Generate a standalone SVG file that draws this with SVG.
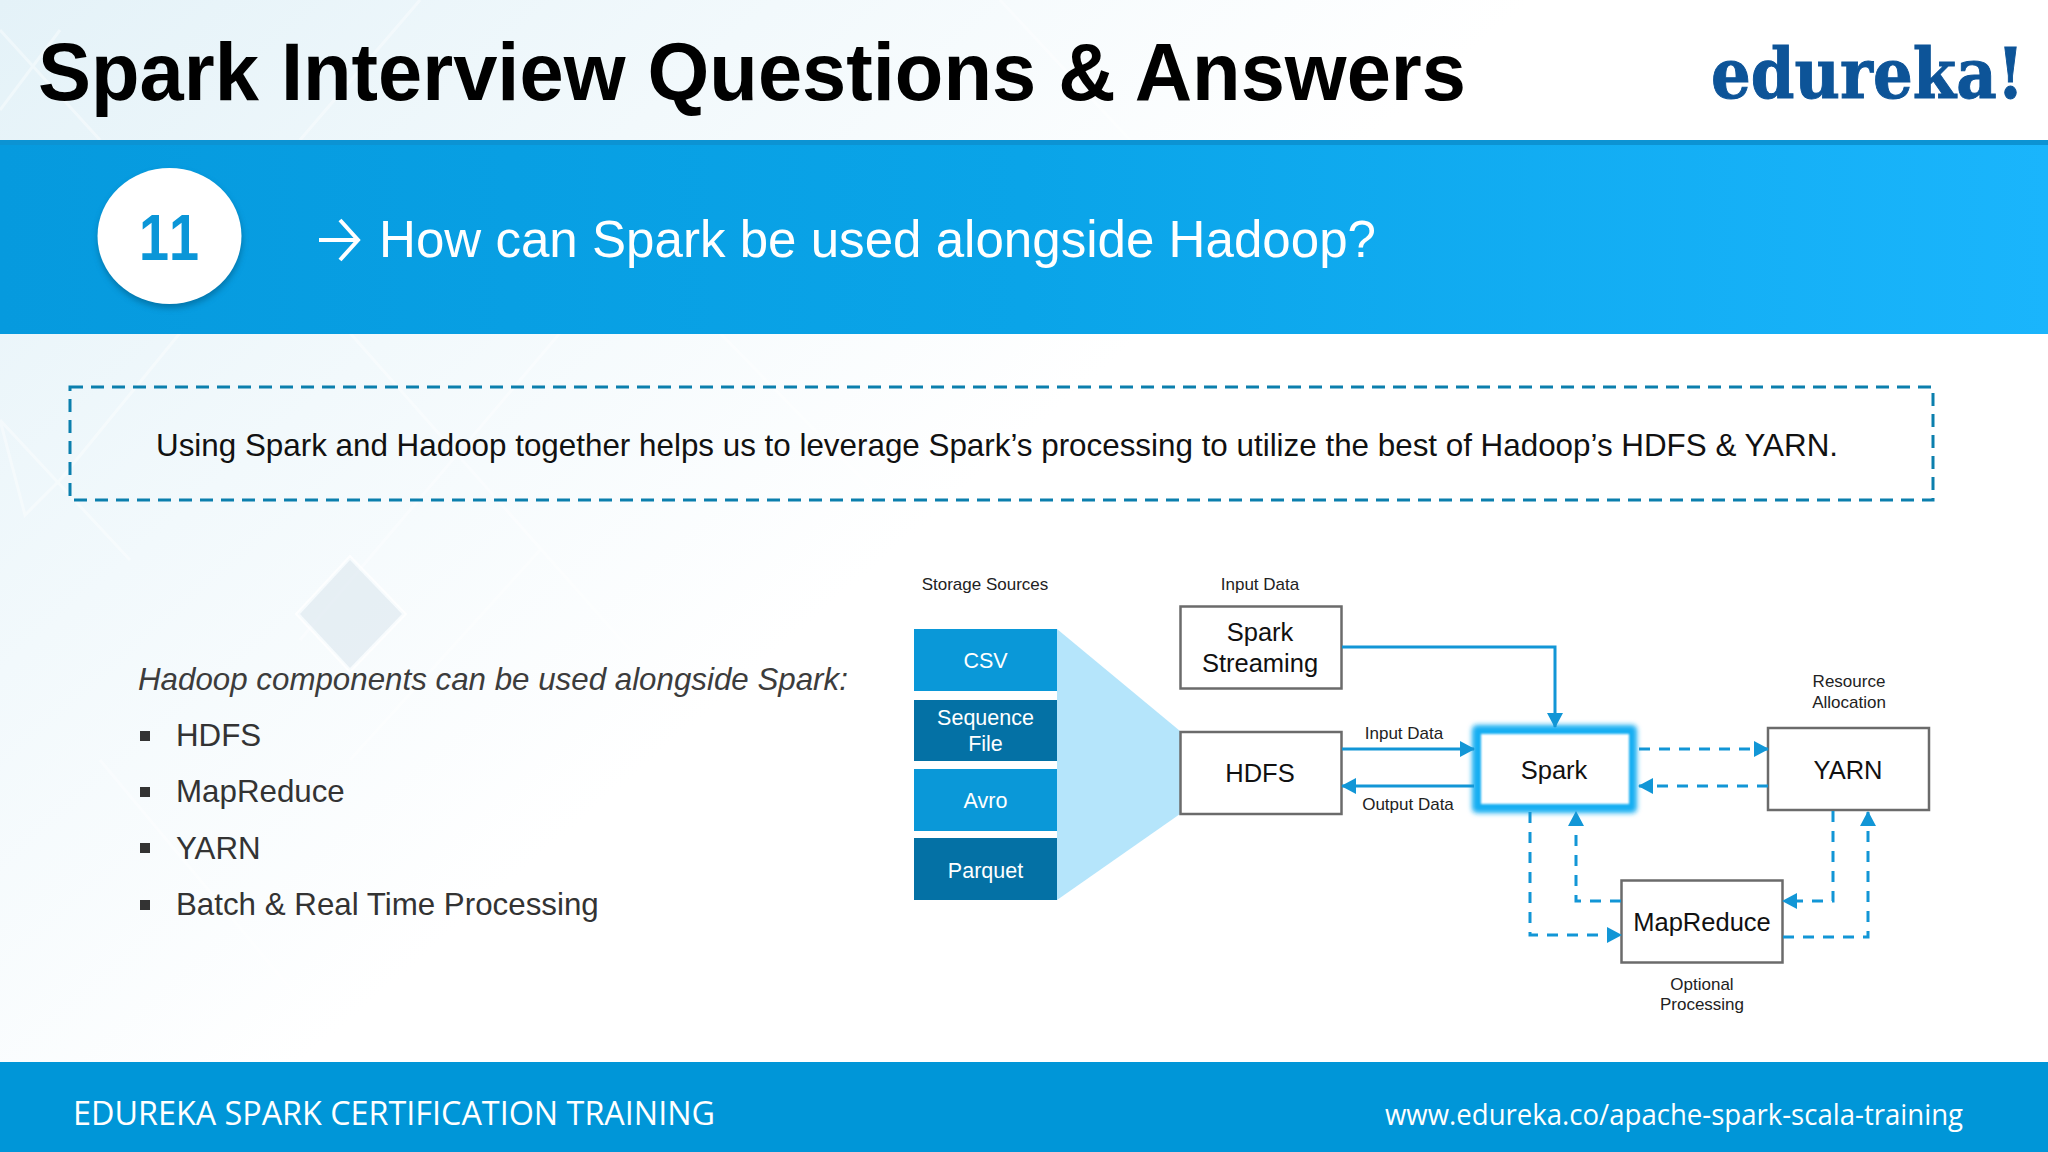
<svg xmlns="http://www.w3.org/2000/svg" width="2048" height="1152" viewBox="0 0 2048 1152">
<style>
text{font-family:"Liberation Sans",Arial,sans-serif}
.box{fill:#fff;stroke:#6b6b6b;stroke-width:2.5}
.lbl{font-size:25.5px;fill:#111;text-anchor:middle}
.sm{font-size:17px;fill:#222;text-anchor:middle}
.st{font-size:21.5px;fill:#fff;text-anchor:middle}
.li{font-size:31.300px;fill:#333}
.bul{fill:#333}
.c{fill:none;stroke:#1296d6;stroke-width:3}
.d{stroke-dasharray:11 9}
.foot{fill:#fff}
</style>
<defs>
<linearGradient id="band" x1="0" x2="1" y1="0" y2="0"><stop offset="0" stop-color="#069ade"/><stop offset="0.5" stop-color="#0aa4e8"/><stop offset="1" stop-color="#1ab5fc"/></linearGradient>
<linearGradient id="bg" x1="0" y1="0" x2="1" y2="0.6"><stop offset="0" stop-color="#e4f2f8"/><stop offset="0.28" stop-color="#f2f9fc"/><stop offset="0.55" stop-color="#fff"/></linearGradient>
<filter id="glow" x="-20%" y="-30%" width="140%" height="160%"><feGaussianBlur stdDeviation="2.5"/></filter>
<filter id="soft" x="-20%" y="-30%" width="140%" height="160%"><feGaussianBlur stdDeviation="1.2"/></filter>
<filter id="shadow" x="-20%" y="-20%" width="140%" height="140%"><feGaussianBlur stdDeviation="3"/></filter>
<marker id="a" markerUnits="userSpaceOnUse" markerWidth="16" markerHeight="16" refX="14" refY="8" orient="auto"><path d="M0 0L15 8L0 16Z" fill="#1296d6"/></marker>
</defs>
<g id="background">
<rect width="2048" height="1152" fill="#fff"/>
<rect width="2048" height="1062" fill="url(#bg)"/>
<g fill="none" stroke="#fff" stroke-width="3" opacity=".4">
<path d="M0 110L60 30M0 30L100 140M300 140L420 0M1000 0L1130 140M0 420L25 515L70 470M0 420L130 560M180 333L60 480M350 333L630 650M560 333L300 640M720 333L1000 620M540 550L350 760M100 760L300 1000"/>
</g>
<path d="M350 560L402 614L350 668L300 614Z" fill="#dde8f0" opacity=".65"/>
<path d="M350 556L406 614L350 672L296 614Z" fill="none" stroke="#fff" stroke-width="2" opacity=".8"/>
</g>
<g id="header">
<text x="38" y="100" font-size="82" font-weight="700" fill="#000" textLength="1428" lengthAdjust="spacingAndGlyphs">Spark Interview Questions &amp; Answers</text>
<text transform="translate(1711 98) scale(.894 1)" font-size="70" font-weight="700" fill="#0d5498" stroke="#0d5498" stroke-width="1" style="font-family:'DejaVu Serif',serif">edureka!</text>
</g>
<g id="question-band">
<rect y="140" width="2048" height="194" fill="url(#band)"/>
<rect y="140" width="2048" height="5" fill="#0c93d3"/>
<ellipse cx="170" cy="240" rx="72" ry="68" fill="#04577f" opacity=".55" filter="url(#shadow)"/>
<ellipse cx="169.500" cy="236" rx="72" ry="68" fill="#fff"/>
<text x="139" y="260" font-size="64" font-weight="700" fill="#0a96d8" textLength="60" lengthAdjust="spacingAndGlyphs" style="font-kerning:none">11</text>
<path d="M319 240H357M340 220L358 240L340 260" fill="none" stroke="#fff" stroke-width="4"/>
<text x="379" y="257" font-size="52" fill="#fff" textLength="997" lengthAdjust="spacingAndGlyphs">How can Spark be used alongside Hadoop?</text>
</g>
<g id="callout">
<rect x="70" y="387" width="1863" height="113" fill="none" stroke="#0b7fad" stroke-width="3" stroke-dasharray="13 8"/>
<text x="156" y="456" font-size="32" fill="#111" textLength="1682" lengthAdjust="spacingAndGlyphs">Using Spark and Hadoop together helps us to leverage Spark’s processing to utilize the best of Hadoop’s HDFS &amp; YARN.</text>
</g>
<g id="bullets">
<text x="138" y="690" font-size="31.300" font-style="italic" fill="#3c3c3c">Hadoop components can be used alongside Spark:</text>
<rect class="bul" x="140" y="731" width="10" height="10"/><text class="li" x="176" y="746">HDFS</text>
<rect class="bul" x="140" y="787" width="10" height="10"/><text class="li" x="176" y="802">MapReduce</text>
<rect class="bul" x="140" y="843" width="10" height="10"/><text class="li" x="176" y="859">YARN</text>
<rect class="bul" x="140" y="900" width="10" height="10"/><text class="li" x="176" y="915">Batch &amp; Real Time Processing</text>
</g>
<g id="funnel"><path d="M1057 629L1180 731V814L1057 900Z" fill="#b5e5fb"/></g>
<g id="storage-sources">
<text class="sm" x="985" y="590">Storage Sources</text>
<rect x="914" y="629" width="143" height="62" fill="#0a98d8"/><text class="st" x="985.500" y="668">CSV</text>
<rect x="914" y="700" width="143" height="61" fill="#0471a5"/><text class="st" x="985.500" y="725">Sequence</text><text class="st" x="985.500" y="751">File</text>
<rect x="914" y="769" width="143" height="62" fill="#0a98d8"/><text class="st" x="985.500" y="808">Avro</text>
<rect x="914" y="838" width="143" height="62" fill="#0471a5"/><text class="st" x="985.500" y="878">Parquet</text>
</g>
<g id="spark-streaming">
<text class="sm" x="1260" y="590">Input Data</text>
<rect class="box" x="1180.500" y="606.500" width="161" height="82"/>
<text class="lbl" x="1260" y="641">Spark</text><text class="lbl" x="1260" y="672">Streaming</text>
</g>
<g id="hdfs">
<rect class="box" x="1180.500" y="732" width="161" height="82"/>
<text class="lbl" x="1260" y="782">HDFS</text>
</g>
<g id="spark">
<rect x="1472" y="725" width="165" height="88" rx="5" fill="#19aef2" filter="url(#glow)"/>
<rect x="1481" y="734" width="148" height="70" fill="#fff" filter="url(#soft)"/>
<text class="lbl" x="1554" y="779">Spark</text>
</g>
<g id="yarn">
<text class="sm" x="1849" y="687">Resource</text><text class="sm" x="1849" y="708">Allocation</text>
<rect class="box" x="1768" y="728" width="161" height="82"/>
<text class="lbl" x="1848" y="779">YARN</text>
</g>
<g id="mapreduce">
<rect class="box" x="1621.500" y="880.500" width="161" height="82"/>
<text class="lbl" x="1702" y="931">MapReduce</text>
<text class="sm" x="1702" y="990">Optional</text><text class="sm" x="1702" y="1010">Processing</text>
</g>
<g id="connectors">
<path class="c" d="M1342 647H1555V727" marker-end="url(#a)"/>
<path class="c" d="M1342 749H1474" marker-end="url(#a)"/>
<path class="c" d="M1474 786H1342" marker-end="url(#a)"/>
<path class="c d" d="M1639 749H1768" marker-end="url(#a)"/>
<path class="c d" d="M1768 786H1639" marker-end="url(#a)"/>
<path class="c d" d="M1530 812V935H1621" marker-end="url(#a)"/>
<path class="c d" d="M1621 901H1576V812" marker-end="url(#a)"/>
<path class="c d" d="M1833 811V901H1783" marker-end="url(#a)"/>
<path class="c d" d="M1783 937H1868V812" marker-end="url(#a)"/>
<text class="sm" x="1404" y="739">Input Data</text>
<text class="sm" x="1408" y="810">Output Data</text>
</g>
<g id="footer">
<rect y="1062" width="2048" height="90" fill="#0096d8"/>
<text class="foot" x="73" y="1125" font-size="32" textLength="642" lengthAdjust="spacingAndGlyphs" style="font-family:'Open Sans',sans-serif">EDUREKA SPARK CERTIFICATION TRAINING</text>
<text class="foot" x="1385" y="1125" font-size="29" textLength="578" lengthAdjust="spacingAndGlyphs" style="font-family:'Open Sans',sans-serif">www.edureka.co/apache-spark-scala-training</text>
</g>
</svg>
